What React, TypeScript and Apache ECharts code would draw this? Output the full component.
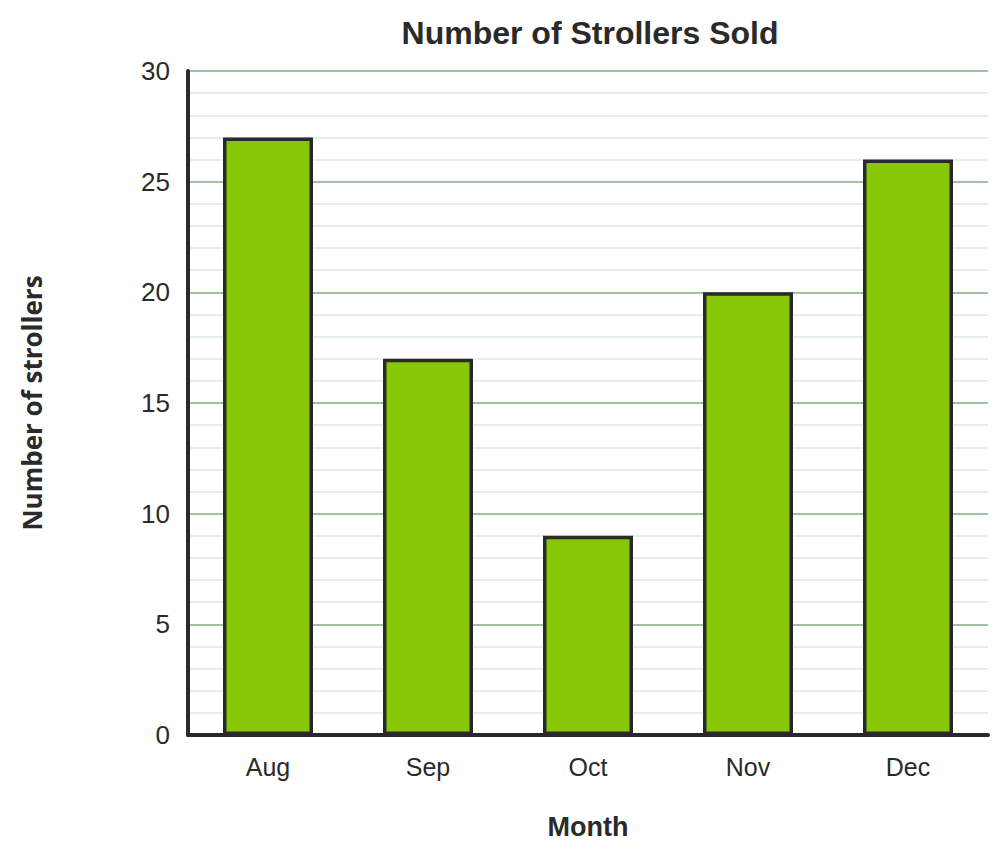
import React, { useEffect, useRef } from "react";
import * as echarts from "echarts";

const months = ["Aug", "Sep", "Oct", "Nov", "Dec"];
const strollers = [27, 17, 9, 20, 26];
const yTicks = { min: 0, max: 30, interval: 5 };

export default function App() {
  const ref = useRef<HTMLDivElement>(null);
  useEffect(() => {
    document.body.style.margin = "0";
    const chart = echarts.init(ref.current!, null, { renderer: "svg" });
    chart.setOption({
      animation: false,
      backgroundColor: "#ffffff",
      title: {
        text: "Number of Strollers Sold",
        left: 585,
        top: 12,
        textAlign: "center",
        textStyle: {
          fontFamily: "Liberation Sans, Arial, sans-serif",
          fontWeight: "bold",
          fontSize: 32,
          color: "#2a2a2a",
        },
      },
      grid: { left: 188, right: 20, top: 71, bottom: 120 },
      xAxis: {
        type: "category",
        data: months,
        name: "Month",
        nameLocation: "middle",
        nameGap: 78,
        nameTextStyle: {
          fontFamily: "Liberation Sans, Arial, sans-serif",
          fontWeight: "bold",
          fontSize: 27,
          color: "#2a2a2a",
        },
        axisLine: { show: true, lineStyle: { color: "#2a2a2a", width: 4 } },
        axisTick: { show: false },
        axisLabel: {
          margin: 19,
          fontFamily: "Liberation Sans, Arial, sans-serif",
          fontSize: 25,
          color: "#2a2a2a",
        },
      },
      yAxis: {
        type: "value",
        min: yTicks.min,
        max: yTicks.max,
        interval: yTicks.interval,
        name: "Number of strollers",
        nameLocation: "middle",
        nameGap: 143,
        nameTextStyle: {
          fontFamily: "Open Sans, sans-serif",
          fontWeight: "bold",
          fontSize: 26,
          color: "#2a2a2a",
        },
        axisLine: { show: true, lineStyle: { color: "#2a2a2a", width: 4 } },
        axisTick: { show: false },
        axisLabel: {
          margin: 18,
          fontFamily: "Liberation Sans, Arial, sans-serif",
          fontSize: 26,
          color: "#2a2a2a",
        },
        splitLine: { show: true, lineStyle: { color: "#a3c2a3", width: 2 } },
        minorTick: { show: false, splitNumber: 5 },
        minorSplitLine: { show: true, lineStyle: { color: "#e7eee7", width: 2 } },
      },
      series: [
        {
          type: "bar",
          data: strollers,
          barWidth: 90,
          itemStyle: { color: "#88c608", borderColor: "#2a2a2a", borderWidth: 3.5 },
        },
      ],
    });
    return () => chart.dispose();
  }, []);
  return <div ref={ref} style={{ width: 1008, height: 855 }} />;
}
